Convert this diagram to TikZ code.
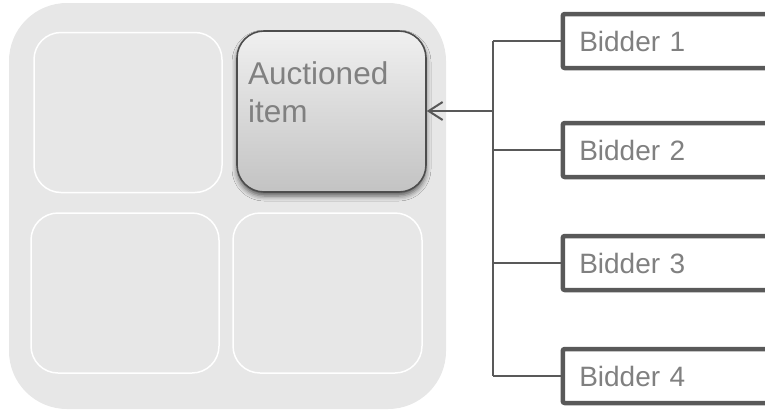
\documentclass[tikz,border=0pt]{standalone}
\usepackage{fontspec}
\setmainfont{Liberation Sans}
\usetikzlibrary{arrows.meta,shadows.blur}

\definecolor{panelgray}{HTML}{E7E7E7}
\definecolor{wiregray}{HTML}{595959}
\definecolor{textgray}{HTML}{808080}
\definecolor{itemtop}{HTML}{F0F0F0}
\definecolor{itembottom}{HTML}{C3C3C3}
\definecolor{itemedge}{HTML}{4D4D4D}

\begin{document}
\begin{tikzpicture}[x=1pt,y=-1pt,
  panel/.style={fill=panelgray, rounded corners=58pt, inner sep=0pt,
    minimum width=437pt, minimum height=406pt},
  cell/.style={draw=white, line width=1.5pt, rounded corners=27pt,
    inner sep=0pt, minimum width=188pt, minimum height=160pt},
  itembox/.style={draw=itemedge, line width=1.6pt, rounded corners=27pt,
    top color=itemtop, bottom color=itembottom, inner sep=0pt,
    minimum width=189pt, minimum height=161pt,
    blur shadow={shadow xshift=0pt, shadow yshift=-4pt,
      shadow blur radius=5pt, shadow opacity=60}},
  itemtext/.style={text=textgray, anchor=north west, inner sep=0pt,
    align=left, font=\fontsize{31.5}{38}\selectfont},
  bidder/.style={draw=wiregray, line width=4.5pt, rounded corners=2pt,
    anchor=west, minimum height=54pt, text width=207pt, inner xsep=16.5pt,
    inner ysep=0pt, align=left, text=textgray,
    font=\fontsize{28}{34}\selectfont},
  wire/.style={draw=wiregray, line width=2pt},
]
\useasboundingbox (0,0) rectangle (765,410);
\clip (0,0) rectangle (765,410);

% grey panel holding the four cells
\node[panel] (panel) at (227.5,206) {};
\node[cell] (celltl) at (128,112.5) {};
\node[cell] (cellbl) at (125,293) {};
\node[cell, minimum width=189pt] (cellbr) at (327.5,293) {};

% the highlighted cell
\node[itembox] (item) at (331.5,111.5) {};
\node[itemtext] (itemlabel) at (248,61) {Auctioned\\item};

% bidders on the right
\node[bidder] (b1) at (560.5,41) {Bidder 1};
\node[bidder] (b2) at (560.5,150) {Bidder 2};
\node[bidder] (b3) at (560.5,263) {Bidder 3};
\node[bidder] (b4) at (560.5,376) {Bidder 4};

% bracket joining the bidders, and the arrow to the item
\coordinate (trunk) at (493,111);
\draw[wire] (b1.west -| trunk) -- (b4.west -| trunk);
\foreach \i in {1,...,4}
  \draw[wire] (b\i.west) -- (b\i.west -| trunk);
\draw[wire, -{Straight Barb[length=14pt, width=18pt]}] (trunk) -- (item.east |- trunk);
\end{tikzpicture}
\end{document}
